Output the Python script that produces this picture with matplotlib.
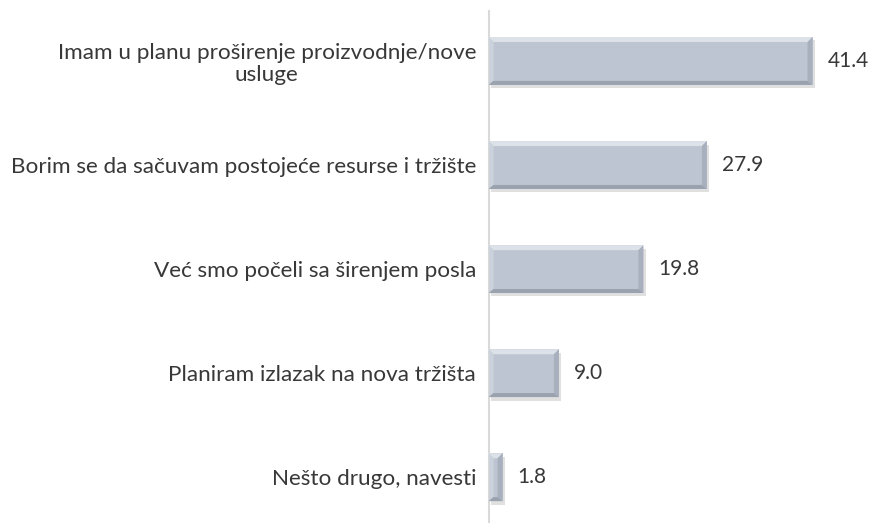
import matplotlib
matplotlib.use("Agg")
import matplotlib.pyplot as plt
from matplotlib.patches import Polygon
import matplotlib.patheffects as pe

# data (%), top to bottom
categories = [
    "Imam u planu proširenje proizvodnje/nove\nusluge",
    "Borim se da sačuvam postojeće resurse i tržište",
    "Već smo počeli sa širenjem posla",
    "Planiram izlazak na nova tržišta",
    "Nešto drugo, navesti",
]
values = [41.4, 27.9, 19.8, 9.0, 1.8]

plt.rcParams["font.family"] = ["Lato", "DejaVu Sans"]

fig = plt.figure(figsize=(8.72, 5.23), dpi=100)
ax = fig.add_axes([488.5 / 872, 0, 1 - 488.5 / 872, 1 - 11 / 523])

pos = list(range(len(values)))
bar_h = 0.46
bars = ax.barh(pos, values, height=bar_h, color="#bec5d2", edgecolor="none", zorder=2)

ax.set_xlim(0, 49)
ax.set_ylim(4.44, -0.48)

for s in ["top", "right", "bottom"]:
    ax.spines[s].set_visible(False)
ax.spines["left"].set_color("#d9d9d9")
ax.spines["left"].set_linewidth(1.5)
ax.set_xticks([])
ax.set_yticks(pos)
ax.set_yticklabels(categories, fontsize=16.2, color="#383838", ha="right",
                   multialignment="center", linespacing=1.15)
ax.tick_params(axis="y", length=0, pad=9)

# bevel look: pixel size converted to data units
fig.canvas.draw()
bb = ax.get_window_extent()
ux = 5 / (bb.width / 49)
uy = 5 / (bb.height / (4.44 + 0.48))

for b in bars:
    b.set_path_effects([pe.SimplePatchShadow(offset=(1.5, -2.5), shadow_rgbFace="#000000", alpha=0.12), pe.Normal()])
    x0, y0 = b.get_x(), b.get_y()
    x1, y1 = x0 + b.get_width(), y0 + b.get_height()
    bx = min(ux, b.get_width() / 2)
    by = uy * 0.8
    # y axis inverted: y0 is the top edge on screen
    top = [(x0, y0), (x1, y0), (x1 - bx, y0 + uy), (x0 + bx, y0 + uy)]
    bot = [(x0, y1), (x1, y1), (x1 - bx, y1 - by), (x0 + bx, y1 - by)]
    left = [(x0, y0), (x0 + bx, y0 + uy), (x0 + bx, y1 - by), (x0, y1)]
    right = [(x1, y0), (x1 - bx, y0 + uy), (x1 - bx, y1 - by), (x1, y1)]
    for pts, c in [(top, "#dde1e8"), (left, "#ccd2dc"), (right, "#a9b0bd"), (bot, "#9aa2af")]:
        ax.add_patch(Polygon(pts, closed=True, facecolor=c, edgecolor="none", zorder=3))

for v, p in zip(values, pos):
    ax.text(v + 15 / (bb.width / 49), p, f"{v:.1f}", va="center", ha="left",
            fontsize=15, color="#383838")

fig.savefig("out.png", dpi=100)
